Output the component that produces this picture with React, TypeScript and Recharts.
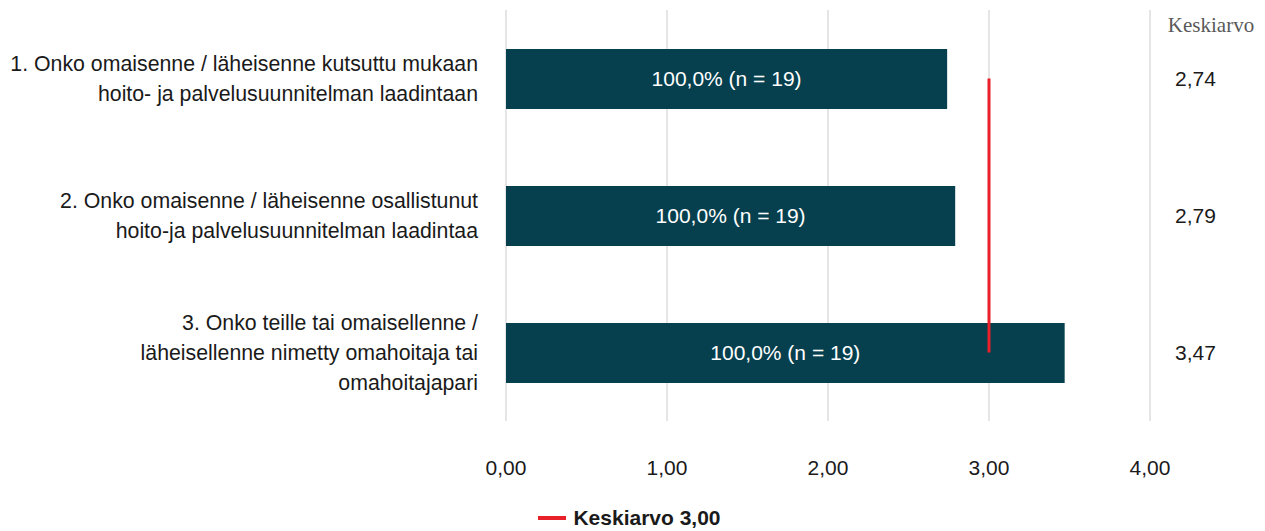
import { ComposedChart, Bar, Line, XAxis, YAxis, CartesianGrid, Legend, LabelList } from "recharts"

const categories = [
  "1. Onko omaisenne / läheisenne kutsuttu mukaan\nhoito- ja palvelusuunnitelman laadintaan",
  "2. Onko omaisenne / läheisenne osallistunut\nhoito-ja palvelusuunnitelman laadintaa",
  "3. Onko teille tai omaisellenne /\nläheisellenne nimetty omahoitaja tai\nomahoitajapari",
]
const means = [2.74, 2.79, 3.47]
const shares = [100.0, 100.0, 100.0]
const counts = [19, 19, 19]
const overallMean = 3.0
const xTicks = [0, 1, 2, 3, 4]

const data = categories.map((name, i) => ({
  name,
  mean: means[i],
  label: `${fmt(shares[i], 1)}% (n = ${counts[i]})`,
  avg: overallMean,
}))

function fmt(v: number, d: number) {
  return v.toFixed(d).replace(".", ",")
}

const FONT = "'Liberation Sans', Arial, sans-serif"
const BAR = "#063f4e"
const RED = "#e8202a"

function CategoryTick({ x, y, payload }: any) {
  const lines = String(payload.value).split("\n")
  const lh = 30
  const y0 = y - ((lines.length - 1) * lh) / 2
  return (
    <text x={x} y={y0} textAnchor="end" fontFamily={FONT} fontSize={21.3} fill="#1a1a1a">
      {lines.map((l, i) => (
        <tspan key={i} x={x} dy={i === 0 ? "0.35em" : lh}>
          {l}
        </tspan>
      ))}
    </text>
  )
}

function MeanTick({ x, y, index }: any) {
  return (
    <text x={x} y={y} dy="0.35em" textAnchor="start" fontFamily={FONT} fontSize={21} fill="#1a1a1a">
      {fmt(means[index], 2)}
    </text>
  )
}

function ValueTick({ x, y, payload }: any) {
  return (
    <text x={x} y={y} dy="0.35em" textAnchor="middle" fontFamily={FONT} fontSize={21} fill="#1a1a1a">
      {fmt(payload.value, 2)}
    </text>
  )
}

function LegendContent({ payload }: any) {
  const items = (payload || []).filter((p: any) => p.type !== "none")
  return (
    <div style={{ display: "flex", justifyContent: "center", height: 26, alignItems: "center" }}>
      {items.map((p: any) => (
        <div key={p.value} style={{ display: "flex", alignItems: "center", marginLeft: -6 }}>
          <div style={{ width: 28, height: 4, background: RED, marginRight: 7 }} />
          <span style={{ fontFamily: FONT, fontSize: 21, fontWeight: "bold", color: "#1a1a1a" }}>{p.value}</span>
        </div>
      ))}
    </div>
  )
}

export default function App() {
  return (
    <div style={{ position: "absolute", left: 0, top: 0, background: "#fff" }}>
      <ComposedChart
        width={1265}
        height={531}
        data={data}
        layout="vertical"
        margin={{ top: 10, right: 0, bottom: 0, left: 0 }}
      >
        <CartesianGrid horizontal={false} stroke="#dcdcdc" strokeWidth={1.5} />
        <XAxis
          type="number"
          domain={[0, 4]}
          ticks={xTicks}
          axisLine={false}
          tickLine={false}
          tickSize={0}
          tickMargin={47}
          height={84}
          tick={<ValueTick />}
        />
        <YAxis
          yAxisId="left"
          type="category"
          dataKey="name"
          width={506}
          axisLine={false}
          tickLine={false}
          tickSize={0}
          tickMargin={28}
          tick={<CategoryTick />}
        />
        <YAxis
          yAxisId="right"
          orientation="right"
          type="category"
          dataKey="name"
          width={115}
          axisLine={false}
          tickLine={false}
          tickSize={0}
          tickMargin={25}
          tick={<MeanTick />}
          label={({ viewBox }: any) => (
            <text
              x={viewBox.x + 61}
              y={viewBox.y + 15}
              dy="0.35em"
              textAnchor="middle"
              fontFamily="'Liberation Serif', 'Times New Roman', serif"
              fontSize={21}
              fill="#595959"
            >
              Keskiarvo
            </text>
          )}
        />
        <Bar yAxisId="left" dataKey="mean" fill={BAR} barSize={60} legendType="none" isAnimationActive={false}>
          <LabelList dataKey="label" position="center" fill="#ffffff" fontFamily={FONT} fontSize={21} />
        </Bar>
        <Line
          yAxisId="left"
          dataKey="avg"
          name="Keskiarvo 3,00"
          stroke={RED}
          strokeWidth={3}
          dot={false}
          activeDot={false}
          legendType="line"
          isAnimationActive={false}
        />
        <Legend
          verticalAlign="bottom"
          content={<LegendContent />}
          wrapperStyle={{ left: 0, width: 1265, height: 26 }}
        />
      </ComposedChart>
    </div>
  )
}
